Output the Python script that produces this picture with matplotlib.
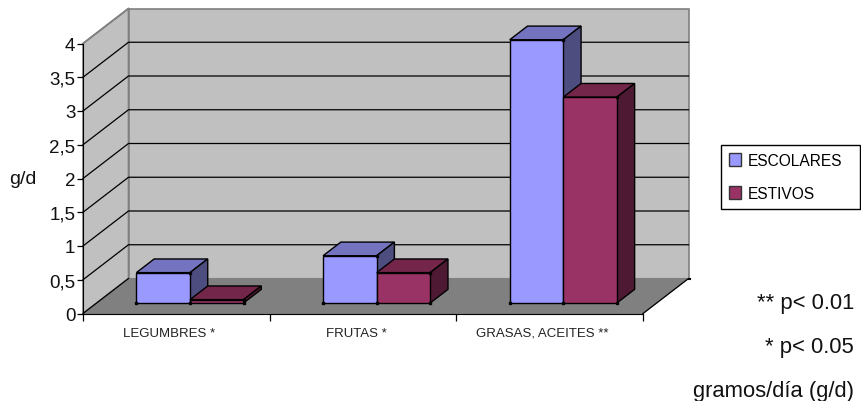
import matplotlib
matplotlib.use("Agg")
import matplotlib.pyplot as plt
from matplotlib.patches import Polygon, Patch
from matplotlib.transforms import ScaledTranslation

plt.rcParams["font.family"] = ["Liberation Sans", "DejaVu Sans"]

categorias = ["LEGUMBRES *", "FRUTAS *", "GRASAS, ACEITES **"]
escolares = [0.45, 0.7, 3.9]
estivos = [0.05, 0.45, 3.05]
ticks = [0, 0.5, 1, 1.5, 2, 2.5, 3, 3.5, 4]
tick_labels = ["0", "0,5", "1", "1,5", "2", "2,5", "3", "3,5", "4"]
notas = ["** p< 0.01", "* p< 0.05", "gramos/día (g/d)"]

W, H = 861, 402
fig = plt.figure(figsize=(W / 100, H / 100), dpi=100, facecolor="white")
ax = fig.add_axes([83 / W, 1 - 314.5 / H, 560 / W, 270 / H])
ax.set_xlim(0, 3)
ax.set_ylim(0, 4)
ax.patch.set_visible(False)

# oblique projection: depth 1 = back wall
DX = 45.5 / (560 / 3)
DY = 35 / (270 / 4)


def proy(x, y, d):
    return (x + d * DX, y + d * DY)


def poly(puntos, color, edge="black", lw=1.0, z=1):
    ax.add_patch(Polygon(puntos, closed=True, facecolor=color, edgecolor=edge,
                         linewidth=lw, zorder=z, clip_on=False))


# walls and floor
poly([proy(0, 0, 0), proy(0, 0, 1), proy(0, 4, 1), proy(0, 4, 0)], "#c0c0c0", "#808080", 1.2, 1)
poly([proy(0, 0, 1), proy(3, 0, 1), proy(3, 4, 1), proy(0, 4, 1)], "#c0c0c0", "#808080", 1.2, 1)
poly([proy(0, 0, 0), proy(3, 0, 0), proy(3, 0, 1), proy(0, 0, 1)], "#808080", "#808080", 0.8, 1)

for t in ticks[1:-1]:
    x0, y0 = proy(0, t, 0)
    x1, y1 = proy(0, t, 1)
    x2, y2 = proy(3, t, 1)
    ax.plot([x0, x1, x2], [y0, y1, y2], color="black", lw=0.9, zorder=2, clip_on=False)
x0, y0 = proy(0, 4, 0)
x1, y1 = proy(0, 4, 1)
ax.plot([x0, x1], [y0, y1], color="#808080", lw=1.2, zorder=2, clip_on=False)
x1, y1 = proy(3, 0, 1)
ax.plot([3, x1], [0, y1], color="black", lw=0.9, zorder=2, clip_on=False)
ax.plot([x1, x1 + 0.01], [y1, y1], color="black", lw=1.5, zorder=2, clip_on=False)
x1, y1 = proy(0, 0, 1)
ax.plot([0, x1], [0, y1], color="black", lw=0.9, zorder=2, clip_on=False)

D0, D1 = 0.30, 0.69


def barra(x0, ancho, alto, frente, lado, tope, z):
    x1 = x0 + ancho
    poly([proy(x0, alto, D0), proy(x1, alto, D0), proy(x1, alto, D1), proy(x0, alto, D1)], tope, z=z)
    poly([proy(x1, 0, D0), proy(x1, 0, D1), proy(x1, alto, D1), proy(x1, alto, D0)], lado, z=z)
    poly([proy(x0, 0, D0), proy(x1, 0, D0), proy(x1, alto, D0), proy(x0, alto, D0)], frente, z=z + 0.1)


ancho = 0.287
for i, (a, b) in enumerate(zip(escolares, estivos)):
    centro = i + 0.5
    barra(centro - ancho, ancho, a, "#9999ff", "#4d4d80", "#7373bf", 3 + i)
    barra(centro, ancho, b, "#993366", "#4d1933", "#732649", 3.5 + i)
    # little black corner marks on the front faces
    esquinas = [proy(centro - ancho, 0, D0), proy(centro, 0, D0), proy(centro + ancho, 0, D0),
                proy(centro, a, D0), proy(centro + ancho, b, D0)]
    ax.plot([p[0] for p in esquinas], [p[1] for p in esquinas], ls="none", marker="s",
            ms=1.8, color="black", zorder=9, clip_on=False)

ax.set_xticks([0, 1, 2, 3])
ax.set_xticklabels([])
ax.set_xticks([0.5, 1.5, 2.5], minor=True)
ax.set_xticklabels(categorias, minor=True, fontsize=9.5, color="#222222")
ax.tick_params(axis="x", which="minor", length=0, pad=9.5)
ax.tick_params(axis="x", which="major", length=5, width=0.9)
# category labels sit a bit left of the slot centres in the original
corrimiento = ScaledTranslation(-7 / 100, 0, fig.dpi_scale_trans)
for etiqueta in ax.get_xticklabels(minor=True):
    etiqueta.set_transform(etiqueta.get_transform() + corrimiento)
ax.set_yticks(ticks)
ax.set_yticklabels(tick_labels, fontsize=13.5, color="#111111")
ax.tick_params(axis="y", length=4, width=0.9, pad=1.5)
for lado in ["top", "right"]:
    ax.spines[lado].set_visible(False)
ax.set_axisbelow(False)

fig.text(23 / W, 1 - 180 / H, "g/d", fontsize=14, ha="center", va="center", color="#111111")

for nota, yy in zip(notas, [304, 348, 392]):
    fig.text(854 / W, 1 - yy / H, nota, fontsize=15.8, ha="right", va="center", color="#111111")

pares = [Patch(facecolor="#9999ff", edgecolor="#333333", label="ESCOLARES"),
         Patch(facecolor="#993366", edgecolor="#333333", label="ESTIVOS")]
ley = fig.legend(handles=pares, loc="center", mode="expand", borderaxespad=0,
                 bbox_to_anchor=(721 / W, 1 - 211 / H, 139 / W, 66 / H),
                 fontsize=11.2, frameon=True, fancybox=False, edgecolor="black",
                 framealpha=1, handlelength=0.78, handleheight=0.85, handletextpad=0.45,
                 labelspacing=1.15, borderpad=0.5)
ley.get_frame().set_linewidth(1.0)

fig.savefig("out.png", dpi=100)
